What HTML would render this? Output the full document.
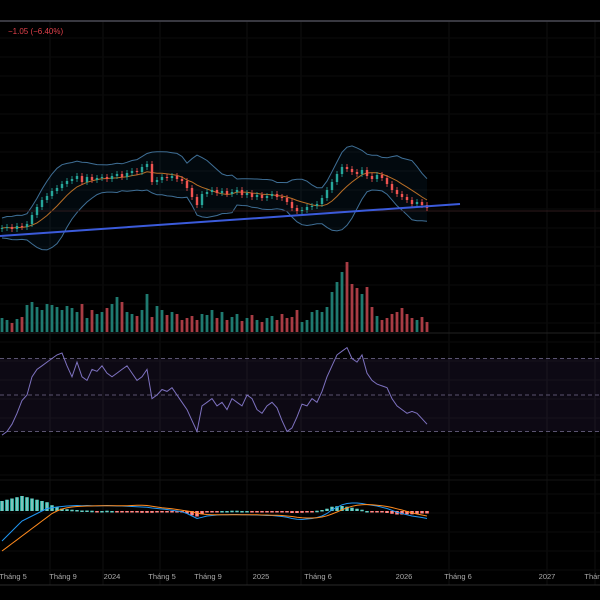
<!DOCTYPE html>
<html><head><meta charset="utf-8"><style>
html,body{margin:0;padding:0;background:#000;width:600px;height:600px;overflow:hidden}
svg{display:block;font-family:"Liberation Sans",sans-serif}
</style></head><body>
<svg id="c" width="600" height="600" viewBox="0 0 600 600">
<rect width="600" height="600" fill="#000"/>
<g id="grid"></g>
<line x1="0" y1="21" x2="600" y2="21" stroke="#4a4a55" stroke-width="1.5"/>
<text x="8" y="34" font-size="8" fill="#e0404a">−1.05 (−6.40%)</text>
<g id="price"></g>
<g id="vol"></g>
<line x1="0" y1="333" x2="600" y2="333" stroke="#222"/>
<g id="rsi"></g>
<line x1="0" y1="480" x2="600" y2="480" stroke="#151515"/>
<g id="macd"></g>
<line x1="0" y1="585" x2="600" y2="585" stroke="#2a2a2a"/>
<g id="axis"></g>
</svg>
<script>
const closes=[13.2,13.3,13.1,13.4,13.3,13.6,14.5,15.3,16.0,16.4,16.9,17.2,17.6,17.9,18.1,18.4,17.8,18.3,18.0,18.2,18.3,18.1,18.4,18.6,18.3,18.7,18.9,18.8,19.3,19.6,17.8,18.0,18.3,18.2,18.4,18.1,17.9,17.2,16.3,15.5,16.6,16.8,17.0,16.7,16.9,16.6,16.8,17.0,16.5,16.7,16.3,16.5,16.2,16.4,16.6,16.3,16.2,15.8,15.2,14.9,15.0,15.3,15.4,15.6,16.2,17.0,17.8,18.6,19.3,19.1,18.8,18.6,19.0,18.4,18.1,18.5,18.2,17.6,17.0,16.6,16.3,16.0,15.6,15.8,15.5,15.2];
const volumes=[14,12,9,13,15,27,30,25,22,28,27,25,22,26,24,20,28,14,22,18,20,24,28,35,30,20,18,16,22,38,15,26,22,17,20,18,12,14,16,12,18,17,22,14,20,12,15,18,11,14,17,12,10,14,16,12,18,14,15,22,10,12,20,22,20,25,40,50,60,70,48,44,38,45,25,16,12,14,18,20,24,18,14,12,15,10];
const rsi=[28,30,34,40,47,50,60,64,66,68,70,72,73,66,60,68,60,58,64,63,66,62,60,62,64,66,62,58,60,64,48,50,53,52,54,50,46,42,36,30,44,46,48,44,46,42,48,46,44,50,48,42,40,44,46,43,36,30,32,38,45,44,48,46,52,60,66,72,74,76,70,68,72,62,58,56,55,54,48,44,42,40,41,40,37,34];
const macdLine=[-12,-10,-8,-6,-4,-3,-2,-1,0,1,1.3,1.6,1.8,2,2.1,2.2,2.1,2.2,2.1,2,2.1,2.2,2.1,2,2,1.9,1.8,1.7,1.6,1.5,1.2,1.0,0.8,0.6,0.3,0,-0.3,-1,-2,-3,-2.5,-2,-1.8,-1.6,-1.5,-1.5,-1.4,-1.4,-1.5,-1.5,-1.6,-1.6,-1.7,-1.8,-1.8,-2,-2.2,-2.5,-3,-3.3,-3.4,-3.2,-3,-2.6,-2,-1,0.5,1.5,2.5,3,3.2,3.2,3,2.6,2.3,2,1.5,1,0.3,-0.5,-1,-1.5,-2,-2.3,-2.6,-3];
const signalLine=[-16,-14.5,-13,-11.5,-10,-8.5,-7,-5.5,-4,-2.5,-1,0,0.8,1.3,1.6,1.8,1.9,2,2,2.1,2.1,2.1,2.1,2.1,2.1,2.1,2.2,2.3,2.3,2.2,1.9,1.6,1.3,1.1,0.9,0.6,0.3,0,-0.3,-0.8,-1.2,-1.4,-1.5,-1.5,-1.5,-1.5,-1.5,-1.5,-1.5,-1.5,-1.5,-1.5,-1.6,-1.6,-1.7,-1.7,-1.8,-2,-2.2,-2.5,-2.7,-2.8,-2.8,-2.7,-2.4,-1.9,-1.2,-0.4,0.5,1.3,1.9,2.3,2.5,2.6,2.5,2.3,2.1,1.8,1.4,0.9,0.4,-0.2,-0.7,-1.2,-1.6,-2];
const tickLabels=["Tháng 5","Tháng 9","2024","Tháng 5","Tháng 9","2025","Tháng 6","2026","Tháng 6","2027","Tháng"];
const tickPos=[13,63,112,162,208,261,318,404,458,547,595];
const NS="http://www.w3.org/2000/svg";
function mk(p,t,a){const e=document.createElementNS(NS,t);for(const k in a)e.setAttribute(k,a[k]);p.appendChild(e);return e;}
const xOf=i=>2+i*5;
const yP=p=>260-(p-10)*10;
const yV=v=>332-v;
const yR=r=>395-(r-50)*1.825;
const yM=m=>511-m*2.5;
const G=document.getElementById('grid');
[50,103,160,247,301,449,547,595].forEach(x=>{const l=mk(G,'line',{x1:x,y1:21,x2:x,y2:585,stroke:'#0f0f0f'});});
for(let y=38;y<585;y+=19){const l=mk(G,'line',{x1:0,y1:y,x2:600,y2:y,stroke:'#0b0b0b'});}
const P=document.getElementById('price');
const N=8,ma=[],up=[],lo=[];
closes.forEach((c,i)=>{const s=closes.slice(Math.max(0,i-N+1),i+1);const m=s.reduce((a,b)=>a+b,0)/s.length;const sd=Math.sqrt(s.reduce((a,b)=>a+(b-m)*(b-m),0)/s.length);ma.push(m);up.push(m+2*sd+1.0);lo.push(m-2*sd-1.0);});
const pts=(arr,f)=>arr.map((v,i)=>xOf(i)+','+f(v).toFixed(1)).join(' ');
const band=mk(P,'polygon',{points:pts(up,yP)+' '+lo.map((v,i)=>xOf(i)+','+yP(v).toFixed(1)).reverse().join(' '),fill:'rgba(33,150,243,0.06)'});

const bu=mk(P,'polyline',{points:pts(up,yP),fill:'none',stroke:'#3f6f96','stroke-width':1});

const bl=mk(P,'polyline',{points:pts(lo,yP),fill:'none',stroke:'#3f6f96','stroke-width':1});

const mal=mk(P,'polyline',{points:pts(ma,yP),fill:'none',stroke:'#b86e26','stroke-width':1});

const hl=mk(P,'line',{x1:0,y1:211,x2:600,y2:211,stroke:'#2e1a1d'});

closes.forEach((c,i)=>{const o=i?closes[i-1]:c-0.1;const col=c>=o?'#26a69a':'#ef5350';const x=xOf(i);
const w=mk(P,'line',{x1:x,y1:yP(Math.max(o,c)+0.3),x2:x,y2:yP(Math.min(o,c)-0.3),stroke:col,'stroke-width':0.8});
const b=mk(P,'rect',{x:x-1.2,y:yP(Math.max(o,c)),width:2.4,height:Math.max(1,Math.abs(yP(o)-yP(c))),fill:col});});
const tl=mk(P,'line',{x1:0,y1:236,x2:460,y2:204,stroke:'#3b5bdb','stroke-width':2});

const V=document.getElementById('vol');
volumes.forEach((v,i)=>{const o=i?closes[i-1]:closes[i];const col=closes[i]>=o?'#1f7a70':'#a83c44';const r=mk(V,'rect',{x:xOf(i)-1.4,y:yV(v),width:2.8,height:v,fill:col});});
const R=document.getElementById('rsi');
const rb=mk(R,'rect',{x:0,y:yR(70),width:600,height:yR(30)-yR(70),fill:'rgba(126,87,194,0.1)'});
[70,50,30].forEach(v=>{const l=mk(R,'line',{x1:0,y1:yR(v),x2:600,y2:yR(v),stroke:'#5a5470','stroke-dasharray':'4 3'});});
const rl=mk(R,'polyline',{points:pts(rsi,yR),fill:'none',stroke:'#7e72c0','stroke-width':1});
const M=document.getElementById('macd');
macdLine.forEach((m,i)=>{const h=(m-signalLine[i]);const col=h>=0?'#26a69a':'#ef5350';const y0=yM(0),y1=yM(h*1.0);const r=mk(M,'rect',{x:xOf(i)-2,y:Math.min(y0,y1),width:4,height:Math.max(1.5,Math.abs(y1-y0)),fill:col});
const r2=mk(M,'rect',{x:xOf(i)-0.5,y:Math.min(y0,y1),width:1,height:Math.max(1.5,Math.abs(y1-y0)),fill:'#ddd'});});
const ml=mk(M,'polyline',{points:pts(macdLine,yM),fill:'none',stroke:'#2196f3','stroke-width':1});
const sl=mk(M,'polyline',{points:pts(signalLine,yM),fill:'none',stroke:'#ff8a1e','stroke-width':1});
const A=document.getElementById('axis');
tickLabels.forEach((t,i)=>{const e=mk(A,'text',{x:tickPos[i],y:579,'font-size':7.5,fill:'#aaa','text-anchor':'middle'});e.textContent=t;});
</script>
</body></html>
